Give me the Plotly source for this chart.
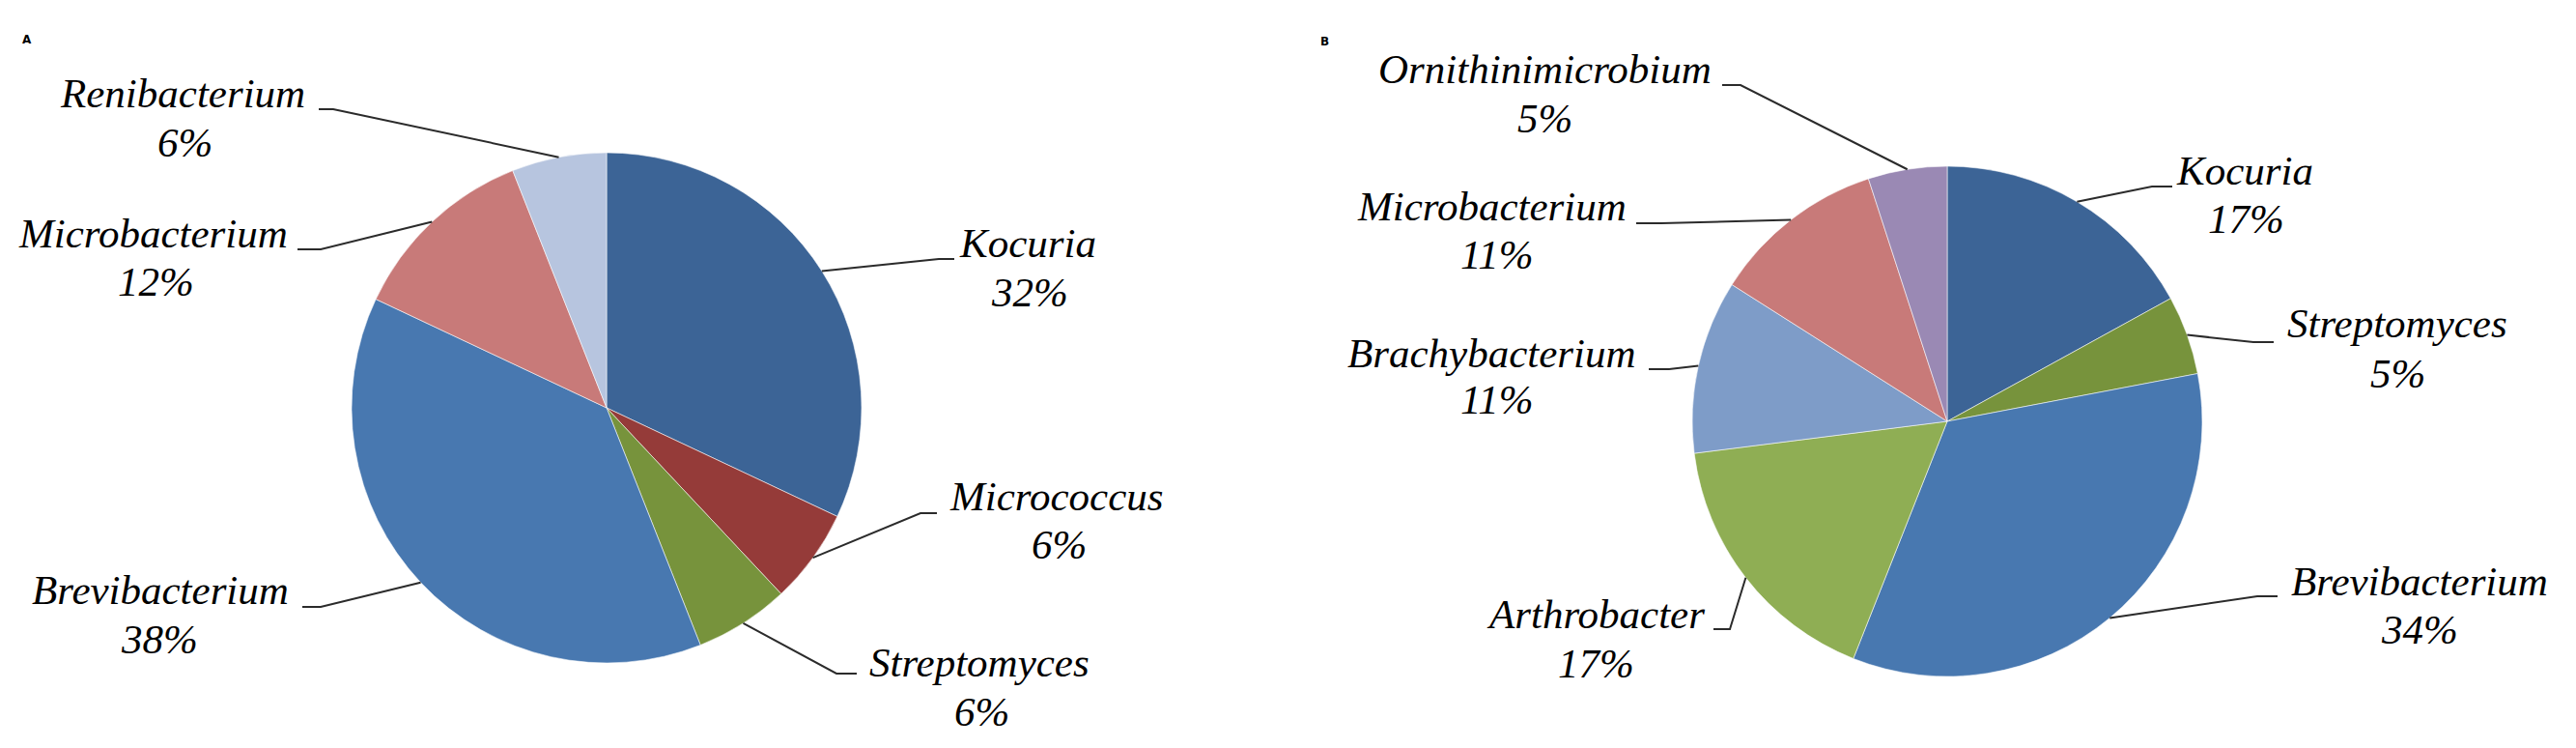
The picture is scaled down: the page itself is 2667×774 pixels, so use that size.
import math
import plotly.graph_objects as go

# ---------------- data ----------------
a_labels = ["Kocuria", "Micrococcus", "Streptomyces", "Brevibacterium", "Microbacterium", "Renibacterium"]
a_values = [32, 6, 6, 38, 12, 6]
a_colors = ["#3C6496", "#953B39", "#77933C", "#4878B0", "#C87A79", "#B7C5DF"]

b_labels = ["Kocuria", "Streptomyces", "Brevibacterium", "Arthrobacter", "Brachybacterium",
            "Microbacterium", "Ornithinimicrobium"]
b_values = [17, 5, 34, 17, 11, 11, 5]
b_colors = ["#3C6496", "#77933C", "#4878B0", "#8FAE54", "#7E9CC8", "#C87A79", "#9A89B4"]

# ---------------- layout (pixels) ----------------
W, H = 2667, 774
FONT = "Liberation Serif, Times New Roman, serif"
FS = 43

pie_a = dict(cx=628, cy=422, r=264, letter="A", lx=28, ly=41)
pie_b = dict(cx=2016, cy=436, r=264, letter="B", lx=1371, ly=43)

# per-slice label placement: name centre x, name baseline, pct centre x, pct baseline,
# stub start x (pie side), stub end x (text side), stub y
a_place = [
    (1064, 267, 1066, 318, 972, 988, 268),
    (1093, 529, 1096, 579, 953, 970, 531),
    (1014, 701, 1016, 752, 866, 887, 697),
    (166, 626, 165, 677, 332, 313, 628),
    (158, 258, 161, 308, 332, 308, 258),
    (189, 112, 191, 163, 345, 330, 113),
]
b_place = [
    (2324, 192, 2325, 243, 2228, 2249, 193),
    (2482, 350, 2482, 402, 2333, 2354, 354),
    (2505, 617, 2505, 667, 2337, 2358, 617),
    (1652, 651, 1652, 702, 1791, 1774, 651),
    (1545, 382, 1550, 430, 1728, 1707, 382),
    (1545, 229, 1550, 280, 1720, 1694, 231),
    (1599, 87, 1599, 138, 1802, 1783, 88),
]


def px(x):
    return x / W


def py(y):
    return 1 - y / H


fig = go.Figure()
shapes = []
annotations = []


def add_pie(labels, values, colors, geo, place):
    cx, cy, r = geo["cx"], geo["cy"], geo["r"]
    fig.add_trace(go.Pie(
        labels=labels, values=values, sort=False, direction="clockwise", rotation=0,
        marker=dict(colors=colors, line=dict(color="rgba(255,255,255,0.55)", width=1)),
        textinfo="none", hoverinfo="label+percent", showlegend=False,
        domain=dict(x=[px(cx - r), px(cx + r)], y=[py(cy + r), py(cy - r)]),
    ))
    total = sum(values)
    cum = 0
    for lab, v, pl in zip(labels, values, place):
        mid = (cum + v / 2) / total * 2 * math.pi
        cum += v
        ex = cx + r * math.sin(mid)
        ey = cy - r * math.cos(mid)
        nx, nyb, pxx, pyb, sx0, sx1, sy = pl
        path = f"M {px(ex)},{py(ey)} L {px(sx0)},{py(sy)} L {px(sx1)},{py(sy)}"
        shapes.append(dict(type="path", path=path, xref="paper", yref="paper",
                           line=dict(color="#2b2b2b", width=2), layer="above"))
        pct = f"{round(100 * v / total)}%"
        for txt, tx, tb in ((lab, nx, nyb), (pct, pxx, pyb)):
            annotations.append(dict(
                text=txt, x=px(tx), y=py(tb - 16), xref="paper", yref="paper",
                xanchor="center", yanchor="middle", showarrow=False,
                font=dict(family=FONT, size=FS, color="#000000", style="italic"),
            ))
    annotations.append(dict(
        text=f"<b>{geo['letter']}</b>", x=px(geo["lx"]), y=py(geo["ly"]), xref="paper", yref="paper",
        xanchor="center", yanchor="middle", showarrow=False,
        font=dict(family="DejaVu Sans", size=12, color="#000000"),
    ))


add_pie(a_labels, a_values, a_colors, pie_a, a_place)
add_pie(b_labels, b_values, b_colors, pie_b, b_place)

fig.update_layout(
    width=W, height=H,
    margin=dict(l=0, r=0, t=0, b=0),
    paper_bgcolor="white", plot_bgcolor="white",
    shapes=shapes, annotations=annotations,
)

fig.write_html(
    "out.html",
    config={"displayModeBar": False},
    post_script="document.body.style.margin='0';document.body.style.overflow='hidden';",
)
